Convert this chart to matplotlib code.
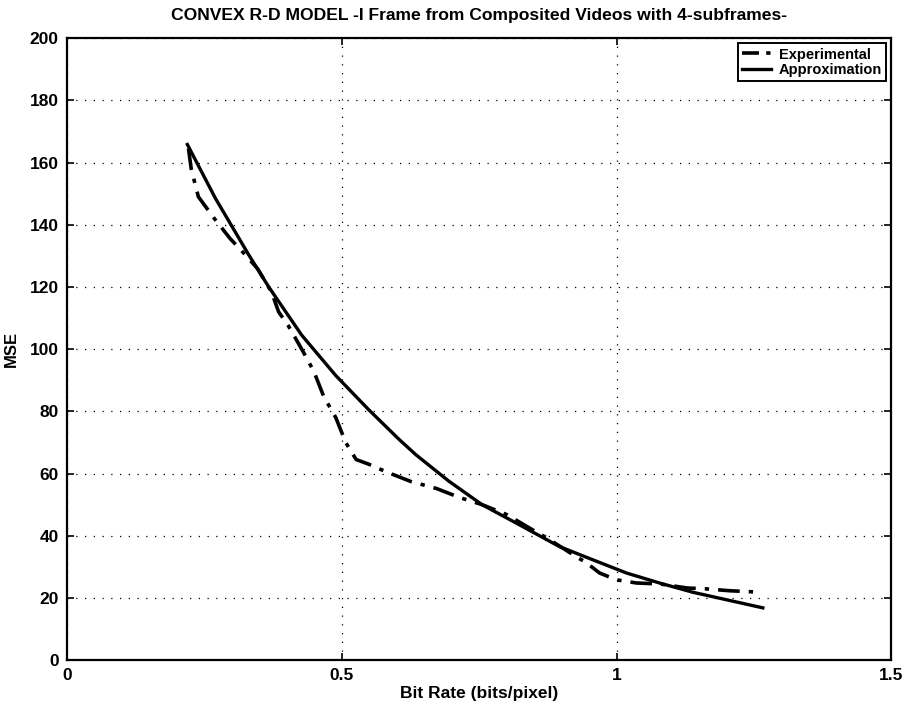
import matplotlib
matplotlib.use("Agg")
import matplotlib.pyplot as plt

exp_x = [0.221, 0.226, 0.239, 0.268, 0.297, 0.323, 0.347, 0.372, 0.385, 0.403, 0.427,
         0.449, 0.467, 0.489, 0.507, 0.526, 0.549, 0.580, 0.626, 0.672, 0.714, 0.755,
         0.800, 0.847, 0.872, 0.927, 0.945, 0.969, 1.000, 1.036, 1.078, 1.128, 1.164,
         1.206, 1.255]
exp_y = [164.5, 158, 149, 142, 135.5, 130.6, 125.8, 118.4, 112, 107.4, 100,
         92.9, 84.8, 78, 70, 64.5, 63, 60.6, 57.4, 55.2, 52.3, 50,
         46.8, 41.9, 39.4, 33.2, 31.3, 28, 25.8, 24.8, 24.5, 23.2, 22.9,
         22.3, 21.9]

# Approximation curve
app_x = [0.219, 0.270, 0.330, 0.367, 0.427, 0.489, 0.549, 0.604, 0.635, 0.695,
         0.755, 0.818, 0.896, 0.956, 1.018, 1.078, 1.139, 1.200, 1.266]
app_y = [165.8, 148.5, 130.5, 120, 104.5, 91.5, 80.5, 71, 66, 57.5,
         50, 44, 36.5, 32.3, 28, 24.8, 21.8, 19.4, 16.8]

title = "CONVEX R-D MODEL -I Frame from Composited Videos with 4-subframes-"
x_ticks = [0, 0.5, 1, 1.5]
x_tick_labels = ["0", "0.5", "1", "1.5"]
y_ticks = list(range(0, 201, 20))

plt.rcParams['font.family'] = ['Liberation Sans', 'DejaVu Sans']
plt.rcParams['font.weight'] = 'bold'

fig = plt.figure(figsize=(9.09, 7.06), dpi=100)
ax = fig.add_axes([0.0737, 0.065, 0.907, 0.881])

ax.plot(exp_x, exp_y, color='black', linestyle=(0, (6, 2.5, 1.2, 2.5)), linewidth=2.6,
        label='Experimental')
ax.plot(app_x, app_y, color='black', linestyle='-', linewidth=2.4, label='Approximation')

ax.set_xlim(0, 1.5)
ax.set_ylim(0, 200)
ax.set_xticks(x_ticks)
ax.set_xticklabels(x_tick_labels)
ax.set_yticks(y_ticks)
ax.grid(True, color='black', linestyle=(0, (1, 6)), linewidth=0.9)
ax.tick_params(direction='in', top=True, right=True, length=5, width=1.2,
               labelsize=12.5)
ax.tick_params(axis='x', pad=6)
ax.tick_params(axis='y', pad=6)
for lbl in ax.get_xticklabels() + ax.get_yticklabels():
    lbl.set_fontweight('bold')
for s in ax.spines.values():
    s.set_linewidth(1.6)

ax.set_title(title, fontsize=12.6, fontweight='bold', pad=13)
ax.set_xlabel('Bit Rate (bits/pixel)', fontsize=12.5, fontweight='bold', labelpad=2)
ax.set_ylabel('MSE', fontsize=12, fontweight='bold', labelpad=8)

leg = ax.legend(loc='upper right', fancybox=False, edgecolor='black', framealpha=1,
                prop={'weight': 'bold', 'size': 10.5}, handlelength=2.0,
                borderaxespad=0.35, borderpad=0.3, labelspacing=0.1, handletextpad=0.5)
leg.get_frame().set_linewidth(1.4)
# show dot-dash-dot pattern in the legend handle
leg.get_lines()[0].set_linestyle((3.5, (1.2, 2.0, 5.0, 2.0)))

fig.savefig('out.png', dpi=100)
